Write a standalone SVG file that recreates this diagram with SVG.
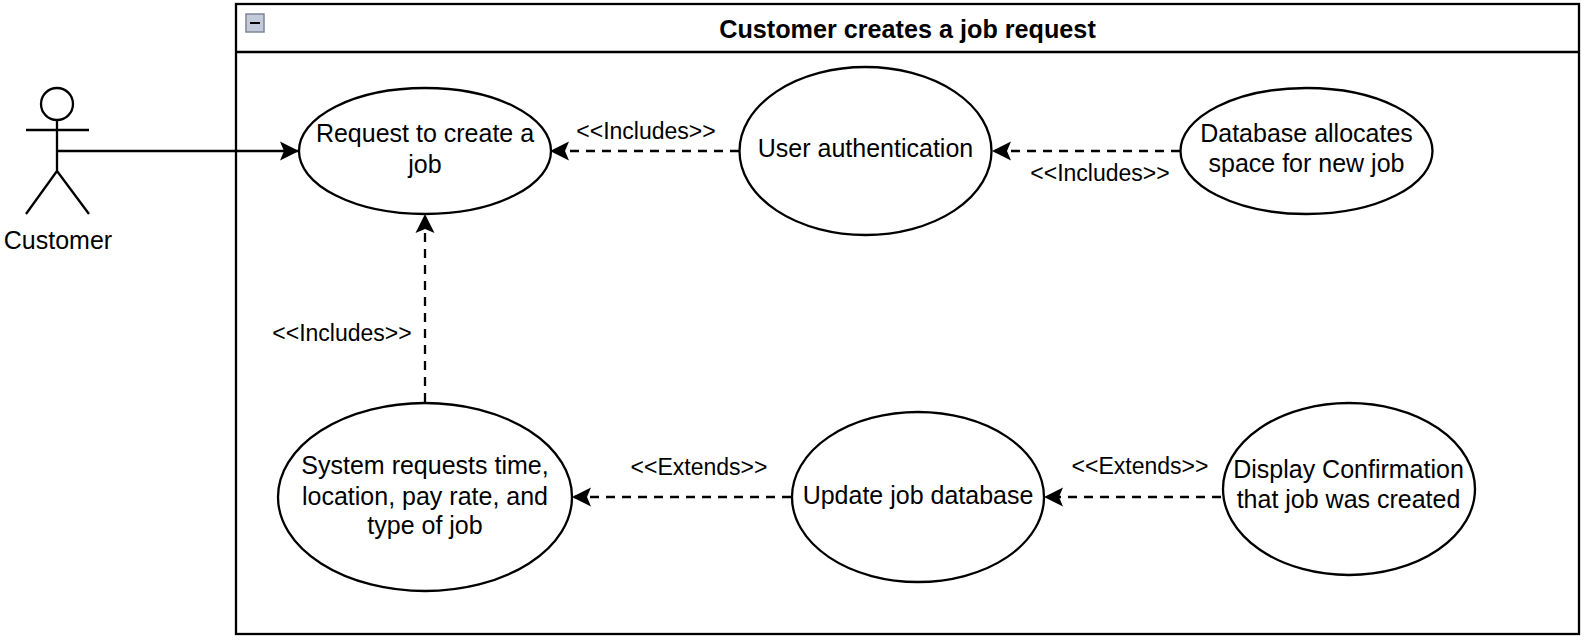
<svg xmlns="http://www.w3.org/2000/svg" width="1584" height="641" viewBox="0 0 1584 641">
<style>
text{font-family:"Liberation Sans",Arial,sans-serif;fill:#000;text-anchor:middle}
.n{font-size:25px}
.l{font-size:23px}
.s{fill:#fff;stroke:#000;stroke-width:2.3}
.c{fill:none;stroke:#000;stroke-width:2.3}
.d{stroke-dasharray:9 7}
</style>
<defs><marker id="a" markerUnits="userSpaceOnUse" markerWidth="22" markerHeight="22" refX="20" refY="11" orient="auto"><path d="M1 1.5 L20 11 L1 20.5 L5 11 Z" fill="#000"/></marker></defs>
<rect width="1584" height="641" fill="#fff"/>
<g id="frame">
<rect class="s" x="236" y="4" width="1343" height="630"/>
<line class="c" x1="236" y1="52" x2="1579" y2="52"/>
<rect x="246" y="14" width="18" height="18" fill="#c3cbda" stroke="#7d8597" stroke-width="1.500"/>
<line x1="250" y1="23" x2="260" y2="23" stroke="#000" stroke-width="2"/>
<text x="907.500" y="38" style="font-size:25.2px;font-weight:bold">Customer creates a job request</text>
</g>
<g id="connectors">
<path class="c" marker-end="url(#a)" d="M57 151H299"/>
<path class="c d" marker-end="url(#a)" d="M739 151H550"/>
<path class="c d" marker-end="url(#a)" d="M1180 151H992"/>
<path class="c d" marker-end="url(#a)" d="M425 402V214"/>
<path class="c d" marker-end="url(#a)" d="M791 497H572"/>
<path class="c d" marker-end="url(#a)" d="M1221 497H1044"/>
<text class="l" x="646" y="138.500">&lt;&lt;Includes&gt;&gt;</text>
<text class="l" x="1100" y="180.500">&lt;&lt;Includes&gt;&gt;</text>
<text class="l" x="342" y="340.500">&lt;&lt;Includes&gt;&gt;</text>
<text class="l" x="699" y="474.500">&lt;&lt;Extends&gt;&gt;</text>
<text class="l" x="1140" y="473.500">&lt;&lt;Extends&gt;&gt;</text>
</g>
<g id="actor">
<circle class="s" cx="57" cy="104" r="16"/>
<path class="c" d="M57 120V171M26 130H89M57 171L26 214M57 171L89 214"/>
<text class="n" x="58" y="249">Customer</text>
</g>
<g id="request"><ellipse class="s" cx="425" cy="151" rx="126" ry="63"/><text class="n" x="425" y="142">Request to create a</text><text class="n" x="425" y="173">job</text></g>
<g id="auth"><ellipse class="s" cx="865.500" cy="151" rx="126" ry="84"/><text class="n" x="865.500" y="157">User authentication</text></g>
<g id="alloc"><ellipse class="s" cx="1306.500" cy="151" rx="126" ry="63"/><text class="n" x="1306.500" y="142">Database allocates</text><text class="n" x="1306.500" y="172">space for new job</text></g>
<g id="sysreq"><ellipse class="s" cx="425" cy="497" rx="147" ry="94"/><text class="n" x="425" y="474">System requests time,</text><text class="n" x="425" y="505">location, pay rate, and</text><text class="n" x="425" y="534">type of job</text></g>
<g id="update"><ellipse class="s" cx="918" cy="497" rx="126" ry="85"/><text class="n" x="918" y="503.500">Update job database</text></g>
<g id="confirm"><ellipse class="s" cx="1349" cy="489" rx="126" ry="86"/><text class="n" x="1348.500" y="478">Display Confirmation</text><text class="n" x="1348.500" y="508">that job was created</text></g>
</svg>
